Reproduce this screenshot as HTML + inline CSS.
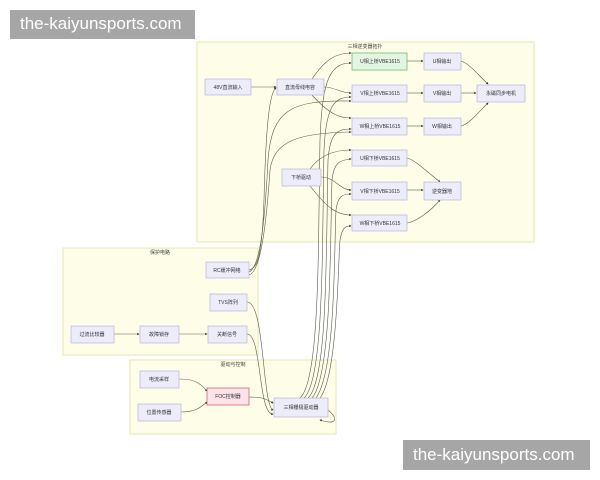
<!DOCTYPE html>
<html><head><meta charset="utf-8"><style>
html,body{margin:0;padding:0;background:#fff;width:600px;height:480px;overflow:hidden}
.wm{position:absolute;background:#a6a6a6;color:#fff;font-family:"Liberation Sans",sans-serif;font-size:17px;line-height:28px;padding:0 0 0 10px;box-sizing:border-box}
</style></head><body>
<svg width="600" height="480" style="position:absolute;left:0;top:0" font-family="Liberation Sans, Noto Sans CJK SC, sans-serif">
<defs><marker id="a" markerWidth="4" markerHeight="4" refX="3" refY="2" orient="auto"><path d="M0,0L4,2L0,4z" fill="#333"/></marker></defs>
<g fill="#fefee8" stroke="#e6e6b0" stroke-width="1">
<rect x="197" y="42" width="337" height="200"/>
<rect x="63" y="248" width="195" height="107"/>
<rect x="130" y="360" width="206" height="74"/>
</g>
<g font-size="5" fill="#444" text-anchor="middle">
<text x="365" y="48">三相逆变器拓扑</text>
<text x="160" y="254">保护电路</text>
<text x="233" y="366">驱动与控制</text>
</g>
<g fill="none" stroke="#5a5a48" stroke-width="0.6" marker-end="url(#a)">
<path d="M251,87L276,87"/>
<path d="M324,87C335,87 340,93 351,93"/>
<path d="M312,79C325,60 335,53 351,53"/>
<path d="M312,95C330,115 340,118 351,118"/>
<path d="M407,61L423,61"/><path d="M407,93L423,93"/><path d="M407,126L423,126"/>
<path d="M461,61C470,64 478,75 488,84"/><path d="M461,93L476,93"/><path d="M461,126C470,124 480,110 488,103"/>
<path d="M310,169C320,155 335,150 351,150"/>
<path d="M321,177C335,177 340,190 351,190"/>
<path d="M310,186C325,205 335,215 351,215"/>
<path d="M407,158C415,160 425,170 440,182"/><path d="M407,190L423,190"/><path d="M407,223C415,222 430,212 440,200"/>
<path d="M114,334L139,334"/><path d="M179,334L207,334"/>
<path d="M179,379C195,379 200,383 207,391"/><path d="M181,412C195,412 200,408 207,402"/>
<path d="M249,397C260,397 265,398 273,403"/>
<path d="M247,302C265,302 262,405 273,410"/>
<path d="M247,334C262,334 258,415 273,414"/>
<path d="M249,270C258,268 262,255 264,200C266,120 270,92 276,88"/>
<path d="M249,272C258,268 264,240 268,160C272,110 290,100 351,101"/>
<path d="M249,275C260,272 266,230 270,170C274,140 300,133 351,132"/>
<path d="M300,398C320,380 318,250 320,140C322,80 330,63 351,63"/>
<path d="M304,398C324,380 322,250 324,150C326,105 335,97 351,97"/>
<path d="M308,398C328,380 326,250 328,160C330,132 338,129 351,129"/>
<path d="M312,398C332,375 330,240 332,180C334,162 340,160 351,159"/>
<path d="M316,398C336,370 334,250 336,210C338,196 342,194 351,194"/>
<path d="M320,398C338,375 338,260 340,240C342,228 345,226 351,226"/>
<path d="M328,410C340,420 335,425 320,420"/>
</g>
<g stroke="#b9b3d9" stroke-width="0.7" fill="#ececfb">
<rect x="205" y="79" width="46" height="16"/><rect x="277" y="79" width="47" height="16"/>
<rect x="352" y="85" width="55" height="17"/><rect x="352" y="118" width="55" height="17"/>
<rect x="424" y="53" width="37" height="17"/><rect x="424" y="85" width="37" height="17"/><rect x="424" y="118" width="37" height="17"/>
<rect x="477" y="85" width="48" height="17"/>
<rect x="352" y="150" width="55" height="16"/><rect x="352" y="182" width="55" height="18"/><rect x="352" y="215" width="55" height="16"/>
<rect x="282" y="169" width="39" height="17"/><rect x="424" y="182" width="37" height="18"/>
<rect x="206" y="262" width="43" height="16"/><rect x="210" y="294" width="37" height="17"/>
<rect x="71" y="326" width="43" height="17"/><rect x="140" y="326" width="39" height="17"/><rect x="208" y="326" width="39" height="17"/>
<rect x="140" y="371" width="39" height="17"/><rect x="138" y="404" width="43" height="17"/>
<rect x="274" y="398" width="54" height="19"/>
</g>
<rect x="352" y="53" width="55" height="17" fill="#e3f5e3" stroke="#6cbf6c" stroke-width="0.8"/>
<rect x="207" y="388" width="42" height="17" fill="#fbe3e8" stroke="#d0607a" stroke-width="0.8"/>
<g font-size="5" fill="#333" text-anchor="middle">
<text x="228" y="89">48V直流输入</text><text x="300" y="89">直流母线电容</text>
<text x="380" y="63">U相上桥VBE1615</text><text x="380" y="95">V相上桥VBE1615</text><text x="380" y="128">W相上桥VBE1615</text>
<text x="442" y="63">U相输出</text><text x="442" y="95">V相输出</text><text x="442" y="128">W相输出</text>
<text x="501" y="95">永磁同步电机</text>
<text x="380" y="160">U相下桥VBE1615</text><text x="380" y="193">V相下桥VBE1615</text><text x="380" y="225">W相下桥VBE1615</text>
<text x="301" y="179">下桥驱动</text><text x="442" y="193">逆变器地</text>
<text x="227" y="272">RC缓冲网络</text><text x="228" y="304">TVS阵列</text>
<text x="92" y="336">过流比较器</text><text x="159" y="336">故障锁存</text><text x="227" y="336">关断信号</text>
<text x="159" y="381">电流采样</text><text x="159" y="414">位置传感器</text>
<text x="228" y="398">FOC控制器</text><text x="301" y="409">三相栅极驱动器</text>
</g>
</svg>
<div class="wm" style="left:10px;top:10px;height:29px;width:185px">the-kaiyunsports.com</div>
<div class="wm" style="left:403px;top:440px;height:30px;line-height:30px;width:187px">the-kaiyunsports.com</div>
</body></html>
